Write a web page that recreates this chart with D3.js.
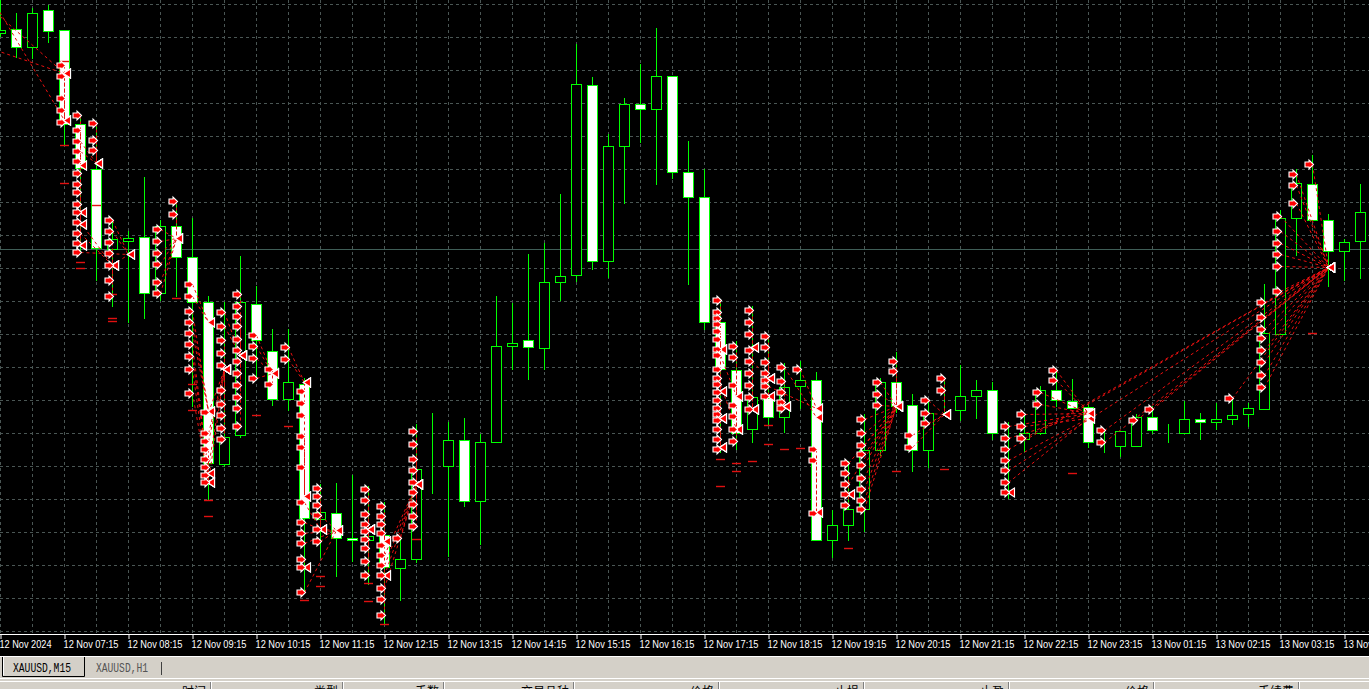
<!DOCTYPE html>
<html><head><meta charset="utf-8">
<script src="https://cdn.jsdelivr.net/npm/d3@7/dist/d3.min.js"></script>
<style>html,body{margin:0;padding:0;background:#000;overflow:hidden}svg{display:block}</style>
</head><body><svg id="c" width="1369" height="689"></svg>
<script>
// ---------- DATA ----------
const times = ["12 Nov 06:15","12 Nov 06:30","12 Nov 06:45","12 Nov 07:00","12 Nov 07:15","12 Nov 07:30","12 Nov 07:45","12 Nov 08:00",
"12 Nov 08:15","12 Nov 08:30","12 Nov 08:45","12 Nov 09:00","12 Nov 09:15","12 Nov 09:30","12 Nov 09:45","12 Nov 10:00",
"12 Nov 10:15","12 Nov 10:30","12 Nov 10:45","12 Nov 11:00","12 Nov 11:15","12 Nov 11:30","12 Nov 11:45","12 Nov 12:00",
"12 Nov 12:15","12 Nov 12:30","12 Nov 12:45","12 Nov 13:00","12 Nov 13:15","12 Nov 13:30","12 Nov 13:45","12 Nov 14:00",
"12 Nov 14:15","12 Nov 14:30","12 Nov 14:45","12 Nov 15:00","12 Nov 15:15","12 Nov 15:30","12 Nov 15:45","12 Nov 16:00",
"12 Nov 16:15","12 Nov 16:30","12 Nov 16:45","12 Nov 17:00","12 Nov 17:15","12 Nov 17:30","12 Nov 17:45","12 Nov 18:00",
"12 Nov 18:15","12 Nov 18:30","12 Nov 18:45","12 Nov 19:00","12 Nov 19:15","12 Nov 19:30","12 Nov 19:45","12 Nov 20:00",
"12 Nov 20:15","12 Nov 20:30","12 Nov 20:45","12 Nov 21:00","12 Nov 21:15","12 Nov 21:30","12 Nov 21:45","12 Nov 22:00",
"12 Nov 22:15","12 Nov 22:30","12 Nov 22:45","12 Nov 23:00","12 Nov 23:15","12 Nov 23:30","12 Nov 23:45","13 Nov 01:00",
"13 Nov 01:15","13 Nov 01:30","13 Nov 01:45","13 Nov 02:00","13 Nov 02:15","13 Nov 02:30","13 Nov 02:45","13 Nov 03:00",
"13 Nov 03:15","13 Nov 03:30","13 Nov 03:45","13 Nov 04:00","13 Nov 04:15","13 Nov 04:30"];
const firstLabel = "12 Nov 2024";

const opens = [2638.35,2638.54,2637.64,2639.49,2638.48,2633.78,2631.53,2627.55,2627.95,2628.17,2625.35,2628.68,2627.15,2624.90,2616.78,2618.25,
2624.80,2622.45,2620.05,2620.82,2614.05,2614.33,2613.10,2613.00,2613.27,2611.60,2612.05,2616.64,2616.68,2618.00,2614.95,2617.92,
2622.70,2623.00,2622.61,2625.88,2626.23,2635.75,2626.95,2632.70,2634.78,2634.55,2636.19,2631.40,2630.15,2623.88,2621.50,2618.55,
2620.10,2619.15,2620.68,2621.02,2613.00,2613.75,2614.55,2617.50,2620.92,2619.75,2617.50,2619.50,2619.50,2620.20,2620.50,2618.13,
2618.06,2618.33,2620.50,2619.95,2619.65,2617.75,2617.70,2617.70,2619.15,2618.43,2618.37,2619.05,2618.88,2619.05,2619.30,2619.55,
2623.30,2629.10,2630.82,2628.98,2627.45,2627.96];
const highs = [2640.50,2639.34,2639.59,2639.75,2638.50,2634.25,2633.90,2629.00,2628.47,2631.13,2629.00,2629.95,2629.10,2625.20,2624.90,2627.20,
2625.72,2623.57,2623.57,2621.10,2615.80,2615.85,2616.27,2615.70,2614.90,2613.06,2618.78,2619.35,2618.88,2619.10,2618.30,2625.20,
2624.85,2627.30,2627.85,2630.30,2637.80,2636.17,2633.30,2635.10,2636.80,2638.61,2636.20,2632.96,2631.57,2625.00,2622.96,2624.70,
2623.25,2621.85,2621.95,2621.40,2614.50,2616.95,2619.30,2621.12,2622.41,2620.30,2620.00,2621.15,2621.75,2621.00,2620.92,2618.90,
2619.35,2620.72,2621.55,2621.05,2619.80,2618.55,2618.43,2619.30,2619.70,2618.78,2619.95,2619.35,2619.85,2620.15,2619.85,2625.82,
2629.50,2631.55,2632.25,2629.30,2628.06,2630.82];
const lows = [2638.20,2637.17,2637.09,2637.92,2632.75,2627.40,2626.02,2624.70,2623.90,2624.10,2625.00,2625.20,2619.70,2615.00,2616.70,2618.15,
2621.05,2619.75,2619.50,2610.35,2612.15,2611.20,2611.95,2610.82,2608.78,2610.00,2611.88,2615.35,2612.20,2614.70,2612.80,2617.90,
2621.55,2621.06,2621.55,2625.00,2625.96,2626.57,2626.13,2629.85,2632.90,2630.82,2631.12,2625.82,2623.57,2617.40,2617.55,2617.90,
2618.78,2618.40,2619.60,2613.00,2612.15,2613.02,2613.47,2617.25,2619.40,2616.45,2616.65,2619.40,2619.00,2619.10,2618.05,2615.10,
2617.45,2618.30,2619.70,2619.60,2617.65,2617.40,2617.20,2617.70,2618.37,2617.92,2618.37,2618.06,2618.55,2618.82,2618.72,2619.55,
2623.30,2627.25,2628.98,2625.72,2626.02,2626.12];
const closes = [2638.50,2637.64,2639.34,2638.47,2633.78,2631.60,2627.60,2628.05,2628.10,2625.35,2628.72,2627.15,2624.90,2616.85,2618.17,2624.90,
2623.02,2620.05,2620.88,2614.10,2614.40,2613.12,2613.02,2613.20,2611.65,2612.05,2616.57,2616.64,2618.00,2614.95,2617.90,2622.70,
2622.85,2622.65,2625.92,2626.20,2635.80,2626.95,2632.70,2634.80,2634.55,2636.20,2631.40,2630.15,2623.88,2621.55,2618.37,2620.15,
2619.15,2620.65,2621.02,2613.00,2613.75,2614.55,2617.50,2620.92,2619.70,2617.50,2619.35,2619.50,2620.20,2620.50,2618.37,2618.13,
2618.33,2620.50,2620.00,2619.60,2617.90,2617.75,2618.43,2619.15,2618.50,2618.43,2619.05,2618.92,2619.05,2619.25,2619.60,2623.37,
2629.10,2630.85,2628.98,2627.45,2627.88,2629.40];

const bidPrice = 2627.50;

// trades: [open bar, open price, close bar, close price]
const trades = [
[-2,2640.59,4,2636.37],[-1,2637.68,4,2636.37],[-1,2640.70,4,2634.00],
[4,2636.75,4,2634.00],[4,2636.20,4,2634.00],[4,2635.10,4,2634.00],[4,2634.50,4,2634.00],[4,2633.90,4,2636.37],
[5,2634.23,5,2631.75],[5,2633.50,5,2631.75],[5,2632.95,6,2631.85],[5,2632.45,6,2631.85],[5,2631.95,5,2629.40],[5,2631.33,5,2629.40],[5,2630.80,5,2628.78],[5,2630.40,5,2628.78],[5,2629.80,5,2627.75],[5,2629.40,5,2627.75],[5,2628.90,7,2626.75],[5,2628.37,7,2626.75],[5,2627.85,5,2627.75],[5,2627.40,8,2627.30],
[6,2633.85,6,2631.85],[6,2633.02,6,2631.85],[6,2632.50,6,2631.85],
[7,2629.00,8,2627.30],[7,2628.47,8,2627.30],[7,2627.92,7,2626.75],[7,2627.35,7,2626.75],[7,2626.75,8,2627.30],[7,2626.02,7,2626.75],[7,2625.20,7,2626.75],
[10,2628.57,11,2628.10],[10,2627.96,11,2628.10],[10,2627.35,11,2628.10],[10,2626.78,11,2628.10],[10,2625.92,11,2628.10],[10,2625.35,11,2628.10],
[11,2629.95,11,2628.10],[11,2629.30,11,2628.10],
[12,2625.82,13,2623.90],[12,2625.20,13,2623.90],[12,2624.45,13,2619.45],[12,2623.92,13,2619.45],[12,2623.37,13,2619.45],[12,2622.80,13,2616.33],[12,2622.20,13,2616.33],[12,2621.57,13,2615.92],[12,2620.35,13,2615.92],
[13,2619.40,14,2621.53],[13,2618.37,14,2621.53],[13,2617.95,14,2621.53],[13,2617.55,13,2615.92],[13,2617.05,13,2615.92],[13,2616.65,14,2621.53],[13,2616.23,13,2616.33],[13,2615.92,14,2621.53],
[14,2624.40,15,2622.25],[14,2623.68,15,2622.25],[14,2623.02,14,2621.53],[14,2622.35,14,2621.53],[14,2621.75,14,2621.53],[14,2620.50,14,2621.53],[14,2619.80,14,2621.53],[14,2619.23,14,2621.53],[14,2618.61,14,2621.53],[14,2618.06,14,2621.53],
[15,2625.30,15,2622.25],[15,2624.70,15,2622.25],[15,2624.20,15,2622.25],[15,2623.68,15,2622.25],[15,2623.06,15,2622.25],[15,2622.50,15,2622.25],[15,2621.95,15,2622.25],[15,2621.33,15,2622.25],[15,2620.75,15,2622.25],[15,2620.17,15,2622.25],[15,2619.60,15,2622.25],[15,2618.68,15,2622.25],
[16,2623.27,17,2621.33],[16,2622.70,17,2621.33],[16,2622.12,17,2621.33],[16,2621.10,17,2621.33],
[17,2621.55,17,2621.33],[17,2620.82,17,2621.33],
[18,2622.65,19,2620.92],[18,2622.05,19,2620.92],
[19,2620.45,19,2620.92],[19,2619.85,19,2620.92],[19,2619.23,19,2615.20],[19,2618.20,19,2615.20],[19,2617.65,19,2615.20],[19,2616.65,19,2615.20],[19,2614.90,20,2613.55],[19,2613.88,20,2613.55],[19,2613.37,21,2613.50],[19,2612.85,21,2613.50],[19,2612.05,19,2611.65],[19,2611.65,19,2611.65],[19,2610.40,21,2613.50],
[20,2615.61,20,2613.55],[20,2615.20,20,2613.55],[20,2614.75,20,2613.55],[20,2614.25,21,2613.50],[20,2613.57,21,2613.50],[20,2612.96,21,2613.50],
[23,2615.57,23,2613.57],[23,2615.00,23,2613.57],[23,2614.30,23,2613.57],[23,2613.78,23,2613.57],[23,2613.47,23,2613.57],[23,2613.06,23,2613.57],[23,2612.61,23,2613.57],[23,2611.95,23,2613.57],[23,2611.23,23,2613.57],
[24,2614.70,24,2612.96],[24,2614.20,24,2612.96],[24,2613.78,24,2612.96],[24,2613.37,24,2612.96],[24,2612.75,24,2611.27],[24,2612.25,26,2615.82],[24,2611.75,26,2615.82],[24,2611.23,26,2615.82],[24,2610.61,26,2615.82],[24,2610.05,24,2611.27],[24,2609.23,24,2611.27],
[25,2613.10,26,2615.82],
[26,2618.47,26,2615.82],[26,2617.80,26,2615.82],[26,2617.05,26,2615.82],[26,2616.50,26,2615.82],[26,2615.92,26,2615.82],[26,2615.41,26,2615.82],[26,2614.80,26,2615.82],[26,2614.20,26,2615.82],[26,2613.68,26,2615.82],
[45,2625.00,45,2622.55],[45,2624.40,45,2622.55],[45,2624.10,45,2622.55],[45,2623.78,45,2622.55],[45,2623.47,45,2622.55],[45,2623.06,45,2622.55],[45,2622.55,45,2620.45],[45,2622.25,46,2620.20],[45,2621.53,45,2620.45],[45,2621.12,45,2620.45],[45,2620.82,46,2618.57],[45,2620.41,45,2619.10],[45,2620.00,45,2619.10],[45,2619.60,45,2619.10],[45,2619.30,45,2619.10],[45,2618.98,45,2617.65],[45,2618.57,45,2617.65],[45,2618.06,45,2617.65],[45,2617.55,45,2617.65],
[46,2622.70,46,2620.20],[46,2622.15,46,2620.20],[46,2620.75,46,2620.20],[46,2619.75,46,2618.57],[46,2619.20,46,2618.57],[46,2618.57,46,2618.57],[46,2617.95,46,2618.57],
[47,2624.50,47,2622.65],[47,2623.88,47,2622.65],[47,2623.31,47,2622.65],[47,2622.50,47,2619.53],[47,2621.95,48,2621.12],[47,2621.33,47,2619.53],[47,2620.75,47,2619.53],[47,2620.15,47,2619.53],[47,2619.53,47,2619.53],
[48,2623.20,48,2621.12],[48,2622.65,48,2621.12],[48,2621.88,48,2621.12],[48,2621.37,48,2621.12],[48,2621.02,48,2620.20],[48,2620.72,51,2619.60],[48,2620.20,48,2620.20],
[49,2621.65,51,2619.15],[49,2620.96,49,2619.70],[49,2620.41,49,2619.70],[49,2619.90,49,2619.70],[49,2619.60,49,2619.70],
[50,2621.53,51,2619.60],
[51,2617.55,51,2614.40],[51,2617.00,51,2614.40],[51,2614.33,51,2614.40],
[53,2616.85,56,2619.70],[53,2616.37,53,2615.30],[53,2615.82,56,2619.70],[53,2615.30,53,2615.30],[53,2614.75,53,2615.30],
[54,2619.05,56,2619.70],[54,2618.37,56,2619.70],[54,2617.75,56,2619.70],[54,2617.30,56,2619.70],[54,2616.75,56,2619.70],[54,2616.10,56,2619.70],[54,2615.55,56,2619.70],[54,2615.00,56,2619.70],[54,2614.55,56,2619.70],
[55,2620.88,56,2619.70],[55,2620.30,56,2619.70],[55,2619.74,56,2619.70],
[56,2621.95,56,2619.70],[56,2621.43,56,2619.70],
[57,2618.23,59,2619.30],[57,2617.65,59,2619.30],
[58,2620.00,59,2619.30],[58,2619.35,59,2619.30],[58,2618.85,59,2619.30],
[59,2621.10,59,2619.30],[59,2620.51,59,2619.30],
[63,2618.68,68,2619.35],[63,2618.10,68,2619.35],[63,2617.55,83,2626.64],[63,2617.00,68,2619.10],[63,2616.50,83,2626.64],[63,2615.92,68,2619.10],[63,2615.41,63,2615.41],
[64,2619.30,68,2619.35],[64,2618.68,68,2619.10],[64,2618.10,83,2626.64],
[65,2620.40,68,2619.35],[65,2619.80,68,2619.35],
[66,2621.50,68,2619.35],[66,2620.98,68,2619.35],
[69,2618.50,83,2626.64],[69,2617.90,83,2626.64],
[71,2619.02,83,2626.64],[72,2619.55,83,2626.64],[77,2620.10,83,2626.64],
[79,2624.90,83,2626.64],[79,2624.15,83,2626.64],[79,2623.57,83,2626.64],[79,2623.10,83,2626.64],[79,2622.51,83,2626.64],[79,2621.88,83,2626.64],[79,2621.23,83,2626.64],[79,2620.65,83,2626.64],
[80,2629.20,83,2626.64],[80,2628.43,83,2626.64],[80,2627.86,83,2626.64],[80,2627.30,83,2626.64],[80,2626.70,83,2626.64],[80,2625.45,83,2626.64],
[81,2631.30,83,2626.64],[81,2630.75,83,2626.64],[81,2629.85,83,2626.64],
[82,2631.80,83,2626.64]
];

// stop / target levels: [bar, price]
const stopLevels = [[4,2636.95],[4,2632.75],[4,2630.85],[5,2626.90],[5,2626.60],[6,2629.75],[7,2625.30],[7,2624.10],[7,2623.95],
[11,2625.10],[12,2620.82],[12,2619.50],[13,2615.00],[13,2614.20],[16,2619.25],[18,2618.68],[19,2610.00],[20,2611.20],[20,2610.68],
[23,2610.85],[23,2609.96],[24,2608.78],[26,2613.06],[45,2617.05],[45,2615.68],[46,2616.85],[46,2616.47],[47,2616.95],[48,2618.75],
[48,2617.82],[49,2617.55],[50,2617.60],[53,2612.60],[56,2616.45],[59,2616.57],[67,2616.37],[82,2623.37]];

const tabLabels = ["XAUUSD,M15","XAUUSD,H1"];
const tableHeaders = ["时间","类型","手数","交易品种","价格","止损","止盈","价格","手续费"];

// ---------- DRAW ----------
const W = 1369, H = 689, plotH = 634;
const svg = d3.select("#c");
svg.append("rect").attr("width",W).attr("height",H).attr("fill","#000");
svg.append("defs").append("clipPath").attr("id","clip").append("rect").attr("width",W).attr("height",plotH);

const x = d3.scaleLinear().domain([0,85]).range([0,1360]);
const y = d3.scaleLinear().domain([2640,2605.55]).range([0,H]);
const cx = i => Math.round(x(i));
const cy = p => Math.round(y(p));

const candles = times.map((t,i)=>({i,t,o:opens[i],h:highs[i],l:lows[i],c:closes[i]}));

const plot = svg.append("g").attr("clip-path","url(#clip)");

// grid
const gridColor = "#4a5654";
const gridPrices = d3.range(0,20).map(n => 2639.785 - 1.65*n);
plot.append("g").selectAll("line").data(gridPrices).join("line")
  .attr("x1",0).attr("x2",W)
  .attr("y1",d=>cy(d)+0.5).attr("y2",d=>cy(d)+0.5)
  .attr("stroke",gridColor).attr("stroke-dasharray","3,3");
plot.append("g").selectAll("line").data(d3.range(0,86,2)).join("line")
  .attr("x1",d=>cx(d)+0.5).attr("x2",d=>cx(d)+0.5)
  .attr("y1",0).attr("y2",plotH)
  .attr("stroke",gridColor).attr("stroke-dasharray","3,3");

// bid line
plot.append("line").attr("x1",0).attr("x2",W)
  .attr("y1",cy(bidPrice)-0.5).attr("y2",cy(bidPrice)-0.5)
  .attr("stroke","#3f5e57").attr("stroke-width",1);

// candles
const green = "#00ff00";
const cg = plot.append("g");
cg.selectAll("line.wick").data(candles).join("line").attr("class","wick")
  .attr("x1",d=>cx(d.i)+0.5).attr("x2",d=>cx(d.i)+0.5)
  .attr("y1",d=>cy(d.h)).attr("y2",d=>cy(d.l)+1)
  .attr("stroke",green);
cg.selectAll("rect.body").data(candles).join("rect").attr("class","body")
  .attr("x",d=>cx(d.i)-5+0.5).attr("width",10)
  .attr("y",d=>cy(Math.max(d.o,d.c))+0.5)
  .attr("height",d=>Math.max(0,cy(Math.min(d.o,d.c))-cy(Math.max(d.o,d.c))))
  .attr("fill",d=>d.c>d.o?"#000":(d.c<d.o?"#fff":"none"))
  .attr("stroke",green).attr("stroke-width",1);

// trade lines
const red = "#e81010";
const tg = plot.append("g");
tg.selectAll("line").data(trades).join("line")
  .attr("x1",d=>cx(d[0])+0.5).attr("y1",d=>cy(d[1])+0.5)
  .attr("x2",d=>cx(d[2])+0.5).attr("y2",d=>cy(d[3])+0.5)
  .attr("stroke",red).attr("stroke-width",1).attr("stroke-dasharray","3,3");

// stop levels
plot.append("g").selectAll("line").data(stopLevels).join("line")
  .attr("x1",d=>cx(d[0])-4).attr("x2",d=>cx(d[0])+5)
  .attr("y1",d=>cy(d[1])+0.5).attr("y2",d=>cy(d[1])+0.5)
  .attr("stroke","#e01010").attr("stroke-width",1.4);

// exit markers (left-pointing triangles)
plot.append("g").selectAll("path").data(trades).join("path")
  .attr("transform",d=>`translate(${cx(d[2])-0.5},${cy(d[3])+0.5})`)
  .attr("d","M0,0 L7,-4.5 L7,4.5 Z")
  .attr("fill","#ff0000").attr("stroke","#fff").attr("stroke-width",1.1).attr("stroke-linejoin","miter");

// entry arrows
plot.append("g").selectAll("path").data(trades.filter(d=>d[0]>=0)).join("path")
  .attr("transform",d=>`translate(${cx(d[0])+1.5},${cy(d[1])+0.5})`)
  .attr("d","M0,0 L-4.5,-4.5 L-4.5,-2.5 L-8.5,-2.5 L-8.5,2.5 L-4.5,2.5 L-4.5,4.5 Z")
  .attr("fill","#ff0000").attr("stroke","#fff").attr("stroke-width",1.1);

// time axis
svg.append("line").attr("x1",0).attr("x2",W).attr("y1",plotH+0.5).attr("y2",plotH+0.5).attr("stroke","#fff");
const axis = d3.axisBottom(x).tickValues(d3.range(0,86,4))
  .tickFormat(i => i===0 ? firstLabel : times[i]).tickSize(4).tickSizeOuter(0);
const ag = svg.append("g").attr("transform",`translate(0.5,${plotH+1})`).call(axis);
ag.select(".domain").remove();
ag.selectAll(".tick line").attr("stroke","#fff");
ag.selectAll(".tick text")
  .attr("fill","#fff").attr("text-anchor","start").attr("x",-1.5).attr("y",13).attr("dy",0)
  .style("font-family","'Liberation Sans', Arial, sans-serif").style("font-size","10.5px")
  .attr("textLength",(d)=> d===0 ? 52 : 55).attr("lengthAdjust","spacingAndGlyphs");

// bottom panel (tabs + terminal header)
const ui = svg.append("g");
ui.append("rect").attr("x",0).attr("y",656).attr("width",W).attr("height",H-656).attr("fill","#d4d0c8");
ui.append("line").attr("x1",0).attr("x2",W).attr("y1",656.5).attr("y2",656.5).attr("stroke","#ffffff");
ui.append("path").attr("d","M2.5,657 V676.5 H84.5 V657").attr("fill","none").attr("stroke","#000");
ui.append("path").attr("d","M3.5,657 V675.5").attr("stroke","#fff");
const tabX = [13, 96], tabLen = [58, 52], tabCol = ["#000","#555"];
ui.selectAll("text.tab").data(tabLabels).join("text").attr("class","tab")
  .attr("x",(d,i)=>tabX[i]).attr("y",671.5)
  .attr("textLength",(d,i)=>tabLen[i]).attr("lengthAdjust","spacingAndGlyphs")
  .attr("fill",(d,i)=>tabCol[i])
  .style("font-family","'Liberation Mono', 'DejaVu Sans Mono', monospace").style("font-size","12px")
  .text(d=>d);
ui.append("line").attr("x1",161.5).attr("x2",161.5).attr("y1",662).attr("y2",675).attr("stroke","#404040");
ui.append("line").attr("x1",0).attr("x2",W).attr("y1",678.5).attr("y2",678.5).attr("stroke","#ffffff");
ui.append("line").attr("x1",0).attr("x2",W).attr("y1",681.5).attr("y2",681.5).attr("stroke","#ffffff");
const colEdges = [210, 342, 443, 573, 718, 863, 1008, 1153, 1298];
ui.selectAll("line.sep").data(colEdges).join("line").attr("class","sep")
  .attr("x1",d=>d+0.5).attr("x2",d=>d+0.5).attr("y1",682).attr("y2",H).attr("stroke","#808080");
ui.selectAll("line.sepw").data(colEdges).join("line").attr("class","sepw")
  .attr("x1",d=>d+1.5).attr("x2",d=>d+1.5).attr("y1",682).attr("y2",H).attr("stroke","#ffffff");
ui.selectAll("text.hdr").data(tableHeaders).join("text").attr("class","hdr")
  .attr("x",(d,i)=>colEdges[i]-4).attr("y",696).attr("text-anchor","end")
  .attr("fill","#000")
  .style("font-family","'Noto Sans CJK SC', sans-serif").style("font-size","12px")
  .text(d=>d);
</script>
</body></html>
